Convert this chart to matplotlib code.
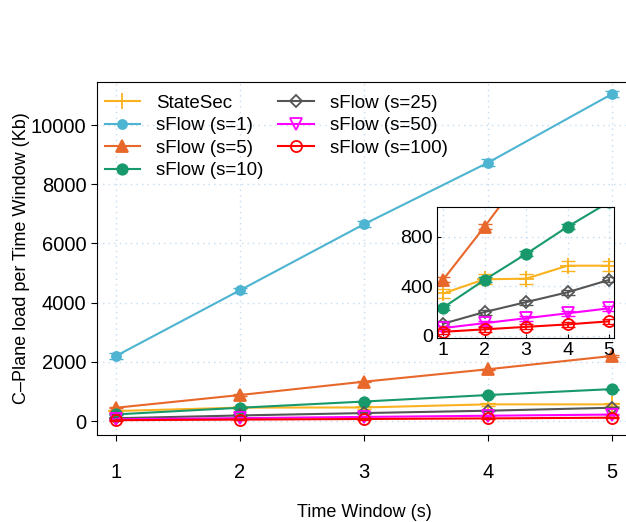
import matplotlib
matplotlib.use('Agg')
import matplotlib.pyplot as plt

plt.rcParams['font.family'] = ['Liberation Sans', 'DejaVu Sans']

# Data
windows = [1, 2, 3, 4, 5]
statesec = [340, 455, 460, 565, 565]
s1 = [2200, 4420, 6650, 8730, 11050]
s5 = [450, 880, 1330, 1750, 2200]
s10 = [225, 450, 660, 880, 1080]
s25 = [95, 190, 270, 350, 450]
s50 = [60, 100, 140, 180, 220]
s100 = [30, 50, 70, 90, 115]
err_statesec = [40, 40, 40, 40, 40]
err_s1 = [90, 90, 100, 130, 110]
err_small = [20, 20, 20, 20, 20]

series = [
    ('StateSec', statesec, err_statesec, '#fbb21f', '+', 'full', 11),
    ('sFlow (s=1)', s1, err_s1, '#4db4d1', 'o', 'full', 6.5),
    ('sFlow (s=5)', s5, err_small, '#e8672a', '^', 'full', 8),
    ('sFlow (s=10)', s10, err_small, '#17996b', 'o', 'full', 7.5),
    ('sFlow (s=25)', s25, err_small, '#555555', 'D', 'none', 6.5),
    ('sFlow (s=50)', s50, err_small, '#ff00ff', 'v', 'none', 8),
    ('sFlow (s=100)', s100, err_small, '#ff0000', 'o', 'none', 8),
]

grid_kw = dict(color='#c4dcf2', linestyle=(0, (1, 3)), linewidth=1)


def draw(a, with_labels):
    for name, vals, err, col, mk, fill, ms in series:
        a.errorbar(windows, vals, yerr=err, fmt='none', ecolor=col,
                   capsize=5, elinewidth=1.2)
        a.plot(windows, vals, color=col, marker=mk, markersize=ms,
               fillstyle=fill, markeredgewidth=1.3, linewidth=1.5,
               label=name if with_labels else None)


fig = plt.figure(figsize=(6.26, 5.22), dpi=100)
ax = fig.add_axes([0.155, 0.1667, 0.853, 0.676])
draw(ax, True)

ax.set_xlim(0.847, 5.153)
ax.set_ylim(-470, 11450)
ax.set_xticks(windows)
ax.set_yticks([0, 2000, 4000, 6000, 8000, 10000])
ax.tick_params(axis='both', labelsize=14.5, direction='out', length=4)
ax.tick_params(axis='x', pad=16)
ax.spines['right'].set_visible(False)
ax.grid(True, **grid_kw)
ax.set_xlabel('Time Window (s)', fontsize=13, labelpad=16)
ax.set_ylabel('C\u2013Plane load per Time Window (Kb)', fontsize=13, labelpad=1)
ax.legend(loc='upper left', bbox_to_anchor=(0.0, 0.985), ncol=2,
          frameon=False, fontsize=13.5,
          handlelength=1.9, columnspacing=0.8, labelspacing=0.28,
          borderaxespad=0.2, borderpad=0.2, handletextpad=0.85)

# Zoomed inset
ins = fig.add_axes([0.698, 0.3525, 0.283, 0.251])
draw(ins, False)
ins.set_xlim(0.855, 5.12)
ins.set_ylim(-20, 1040)
ins.set_xticks(windows)
ins.set_yticks([0, 400, 800])
ins.tick_params(axis='both', labelsize=14, direction='in', length=3, pad=3)
ins.grid(True, **grid_kw)

fig.savefig('out.png', dpi=100)
